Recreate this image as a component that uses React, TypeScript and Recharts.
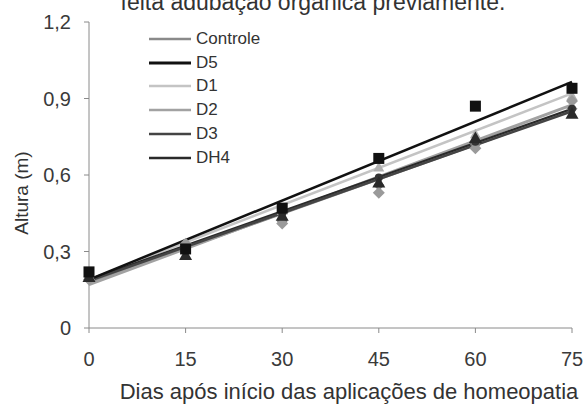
import React from 'react';
import { ComposedChart, Line, Scatter, XAxis, YAxis, Legend, Label } from 'recharts';

// ---- data ----
const days = [0, 15, 30, 45, 60, 75];
const fitDays = [0, 75];
const xTicks = [0, 15, 30, 45, 60, 75];
const yTicks = [0, 0.3, 0.6, 0.9, 1.2];

const controleValues = [0.2, 0.31, 0.42, 0.56, 0.72, 0.86];
const d5Values = [0.22, 0.31, 0.47, 0.665, 0.87, 0.94];
const d1Values = [0.2, 0.33, 0.46, 0.63, 0.76, 0.91];
const d2Values = [0.19, 0.33, 0.41, 0.53, 0.705, 0.89];
const d3Values = [0.2, 0.286, 0.44, 0.57, 0.745, 0.84];
const dh4Values = [0.21, 0.31, 0.45, 0.59, 0.73, 0.86];

const controleFit = [0.18, 0.855];
const d5Fit = [0.19, 0.965];
const d1Fit = [0.19, 0.92];
const d2Fit = [0.17, 0.875];
const d3Fit = [0.185, 0.85];
const dh4Fit = [0.19, 0.86];

const titleText = 'feita adubação orgânica previamente.';
const xTitle = 'Dias após início das aplicações de homeopatia';
const yTitle = 'Altura (m)';

// ---- styling per series ----
type Kind = 'square' | 'triangle' | 'diamond' | 'circle';
const series: {
  key: string; name: string; values: number[]; fit: number[];
  color: string; width: number; kind: Kind; marker: string; size: number;
}[] = [
  { key: 'controle', name: 'Controle', values: controleValues, fit: controleFit, color: '#8a8a8a', width: 3, kind: 'diamond', marker: '#7a7a7a', size: 11 },
  { key: 'd1', name: 'D1', values: d1Values, fit: d1Fit, color: '#c4c4c4', width: 2.5, kind: 'triangle', marker: '#b0b0b0', size: 11 },
  { key: 'd2', name: 'D2', values: d2Values, fit: d2Fit, color: '#a2a2a2', width: 3, kind: 'diamond', marker: '#9a9a9a', size: 12 },
  { key: 'dh4', name: 'DH4', values: dh4Values, fit: dh4Fit, color: '#2a2a2a', width: 2, kind: 'circle', marker: '#333333', size: 8 },
  { key: 'd3', name: 'D3', values: d3Values, fit: d3Fit, color: '#444444', width: 2.5, kind: 'triangle', marker: '#2a2a2a', size: 13 },
  { key: 'd5', name: 'D5', values: d5Values, fit: d5Fit, color: '#111111', width: 2.5, kind: 'square', marker: '#111111', size: 11 },
];
const legendOrder = ['controle', 'd5', 'd1', 'd2', 'd3', 'dh4'];

const allX = Array.from(new Set([...days, ...fitDays])).sort((a, b) => a - b);
const data = allX.map((x) => {
  const row: Record<string, number | null> = { x };
  series.forEach((s) => {
    const i = days.indexOf(x);
    row[s.key] = i >= 0 ? s.values[i] : null;
    const j = fitDays.indexOf(x);
    row[s.key + 'Fit'] = j >= 0 ? s.fit[j] : null;
  });
  return row;
});

const makeShape = (kind: Kind, color: string, size: number) => (props: any) => {
  const { cx, cy } = props;
  if (cx == null || cy == null || isNaN(cx) || isNaN(cy)) return <g />;
  const h = size / 2;
  if (kind === 'square') return <rect x={cx - h} y={cy - h} width={size} height={size} fill={color} />;
  if (kind === 'triangle')
    return <polygon points={`${cx},${cy - h} ${cx + h},${cy + h * 0.75} ${cx - h},${cy + h * 0.75}`} fill={color} />;
  if (kind === 'diamond')
    return <polygon points={`${cx},${cy - h} ${cx + h},${cy} ${cx},${cy + h} ${cx - h},${cy}`} fill={color} />;
  return <circle cx={cx} cy={cy} r={h} fill={color} />;
};

const fmt = (v: number) => (v === 0 ? '0' : v.toFixed(1).replace('.', ','));
const FONT = '"Liberation Sans", Arial, Helvetica, sans-serif';

const renderLegend = () => (
  <div style={{ fontFamily: FONT }}>
    {legendOrder.map((k) => {
      const s = series.find((q) => q.key === k)!;
      return (
        <div key={k} style={{ display: 'flex', alignItems: 'center', height: 23.8 }}>
          <svg width={44} height={8} style={{ display: 'block' }}>
            <line x1={0} y1={4} x2={42} y2={4} stroke={s.color} strokeWidth={s.key === 'd5' ? 3 : 2.5} />
          </svg>
          <span style={{ fontSize: 17, color: '#333', marginLeft: 3, lineHeight: '20px' }}>{s.name}</span>
        </div>
      );
    })}
  </div>
);

export default function App() {
  return (
    <div
      style={{
        position: 'absolute', left: 0, top: 0, width: 585, height: 406,
        overflow: 'hidden', background: '#fff', fontFamily: FONT,
      }}
    >
      <ComposedChart
        width={585}
        height={406}
        data={data}
        margin={{ top: 22, right: 13, bottom: 18, left: 0 }}
        style={{ fontFamily: FONT }}
      >
        <XAxis
          dataKey="x"
          type="number"
          domain={[0, 75]}
          ticks={xTicks}
          height={60}
          tickSize={5}
          tickMargin={19}
          stroke="#8a8a8a"
          tick={{ fontSize: 20, fill: '#3a3a3a' }}
        >
          <Label
            content={() => (
              <text x={349} y={399} textAnchor="middle" style={{ fontSize: 22 }} fill="#333" fontFamily={FONT}>
                {xTitle}
              </text>
            )}
          />
        </XAxis>
        <YAxis
          type="number"
          domain={[0, 1.2]}
          ticks={yTicks}
          width={89}
          tickSize={5}
          tickMargin={13}
          stroke="#8a8a8a"
          tickFormatter={fmt}
          tick={{ fontSize: 20, fill: '#3a3a3a' }}
        >
          <Label
            content={() => (
              <text
                x={0}
                y={0}
                transform="translate(28, 193) rotate(-90)"
                textAnchor="middle"
                style={{ fontSize: 19 }}
                fill="#333"
                fontFamily={FONT}
              >
                {yTitle}
              </text>
            )}
          />
        </YAxis>
        <Legend
          content={renderLegend}
          layout="horizontal"
          verticalAlign="middle"
          align="center"
          wrapperStyle={{ top: 27, left: 149, width: 'auto' }}
        />
        {series.filter((s) => s.key !== 'd5').map((s) => (
          <Scatter
            key={s.key + 'pts'}
            dataKey={s.key}
            name={s.name}
            shape={makeShape(s.kind, s.marker, s.size)}
            isAnimationActive={false}
            legendType="none"
          />
        ))}
        {series.map((s) => (
          <Line
            key={s.key + 'fit'}
            dataKey={s.key + 'Fit'}
            name={s.name}
            stroke={s.color}
            strokeWidth={s.width}
            dot={false}
            activeDot={false}
            connectNulls
            type="linear"
            isAnimationActive={false}
            legendType="none"
          />
        ))}
        {series.filter((s) => s.key === 'd5').map((s) => (
          <Scatter
            key={s.key + 'pts'}
            dataKey={s.key}
            name={s.name}
            shape={makeShape(s.kind, s.marker, s.size)}
            isAnimationActive={false}
            legendType="none"
          />
        ))}
      </ComposedChart>
      <div
        style={{
          position: 'absolute', top: -9, left: 0, width: 626, textAlign: 'center',
          fontSize: 23, lineHeight: '22px', color: '#333', fontFamily: FONT, whiteSpace: 'nowrap',
        }}
      >
        {titleText}
      </div>
    </div>
  );
}
